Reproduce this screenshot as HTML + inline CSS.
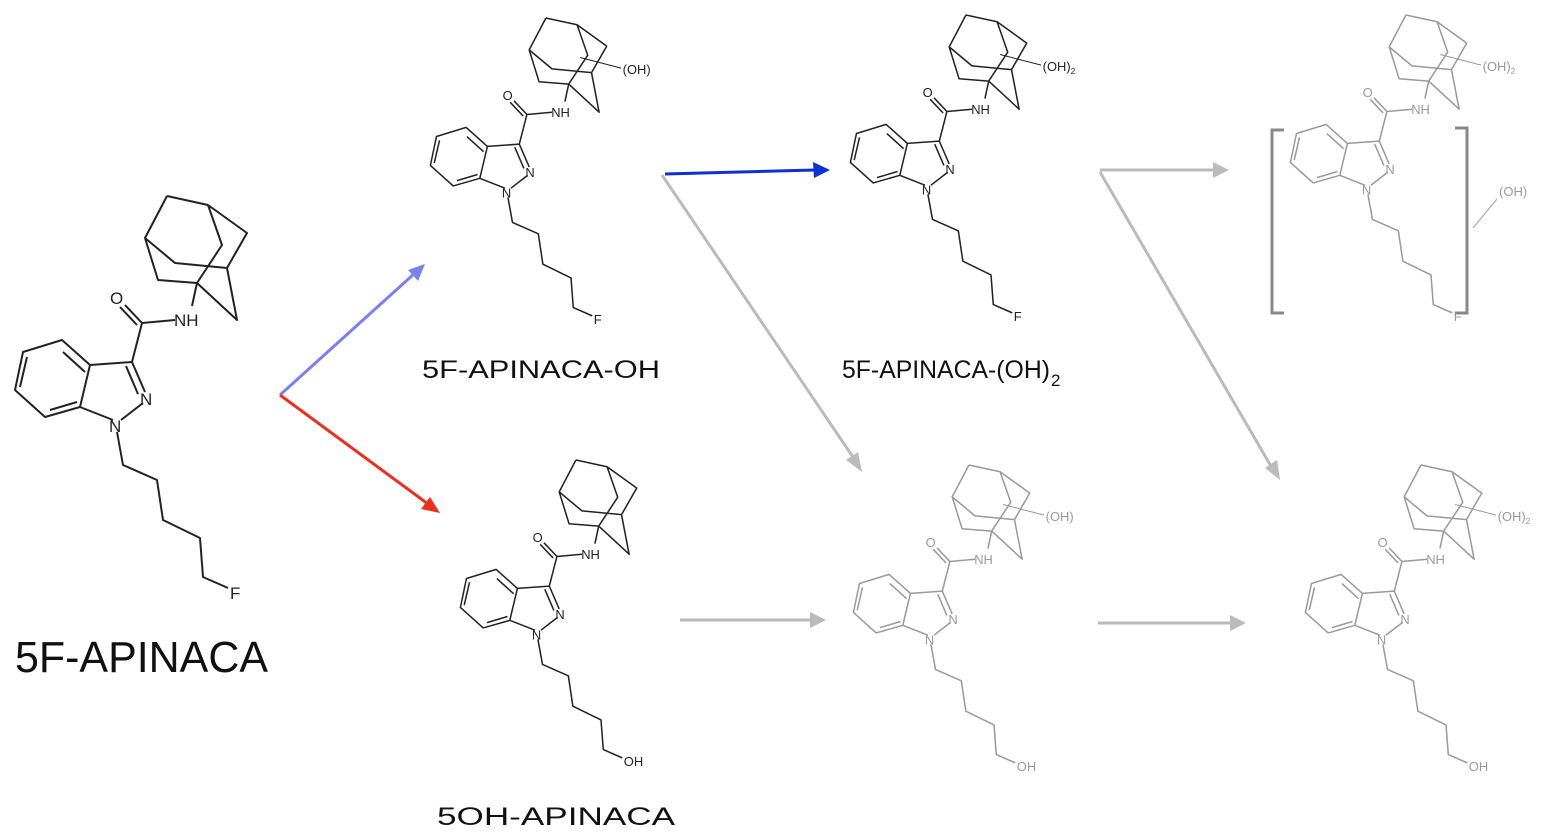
<!DOCTYPE html>
<html><head><meta charset="utf-8"><style>
html,body{margin:0;padding:0;background:#fff;}
svg{display:block;}
text{font-family:"Liberation Sans",sans-serif;}
</style></head><body>
<svg width="1542" height="837" viewBox="0 0 1542 837" xmlns="http://www.w3.org/2000/svg">
<defs>
<g id="m" fill="none" stroke-width="2" stroke-linejoin="round">
 <path d="M167,196 L208,205 L247,233 L227,268 M167,196 L145,238 L175,263 L227,268 M208,205 L222,245 L197,283 M145,238 L158,280 L197,283 L237,320 L227,268"/>
 <path d="M197,283 L192,306 M175,320 L142,323 L132,362 M142,323 L125,305 M137,325 L120,307"/>
 <path d="M132,362 L90,365 L80,407 L113,420 M121,420 L143,403 M132,362 L145,392 M126,366 L138,394"/>
 <path d="M90,365 L62,340 L23,352 L15,390 L45,417 L80,407 M85,372 L63,352 M27,357 L20,387 M50,410 L77,402"/>
 <path d="M117,432 L123,465 L157,480 L163,520 L200,538 L203,577 L228,588"/>
</g>
</defs>

<g stroke-width="3" fill="none">
 <line x1="280" y1="395" x2="415" y2="273" stroke="#7b80ee"/>
 <line x1="280" y1="395" x2="428" y2="504" stroke="#e8321e"/>
 <line x1="665" y1="174" x2="815" y2="170" stroke="#1030d0"/>
 <line x1="662" y1="175" x2="855" y2="460" stroke="#bbb"/>
 <line x1="680" y1="620" x2="812" y2="620" stroke="#bbb"/>
 <line x1="1100" y1="170" x2="1215" y2="170" stroke="#bbb"/>
 <line x1="1100" y1="172" x2="1272" y2="468" stroke="#bbb"/>
 <line x1="1098" y1="623" x2="1232" y2="623" stroke="#bbb"/>
</g>
<polygon points="425,264 408,270 418,281" fill="#7b80ee"/>
<polygon points="440,513 421,509 430,497" fill="#e8321e"/>
<polygon points="830,170 813,162 814,178" fill="#1030d0"/>
<polygon points="862,472 846,460 858,452" fill="#bbb"/>
<polygon points="826,620 810,612 810,628" fill="#bbb"/>
<polygon points="1229,170 1213,162 1213,178" fill="#bbb"/>
<polygon points="1280,480 1265,468 1277,460" fill="#bbb"/>
<polygon points="1246,623 1230,615 1230,631" fill="#bbb"/>

<g stroke="#222"><use href="#m"/></g>
<g font-size="17" fill="#222">
 <text x="110" y="304">O</text><text x="174" y="326">NH</text>
 <text x="140" y="405">N</text><text x="109" y="432">N</text><text x="230" y="599">F</text>
</g>
<text x="15" y="672" font-size="44" fill="#111" textLength="253" lengthAdjust="spacingAndGlyphs">5F-APINACA</text>

<g transform="translate(419,-131) scale(0.76)" stroke="#222">
 <use href="#m"/><line x1="212" y1="248" x2="266" y2="262" stroke-width="1.3"/>
 <g font-size="17" fill="#222" stroke="none">
 <text x="110" y="304">O</text><text x="174" y="326">NH</text>
 <text x="140" y="405">N</text><text x="109" y="432">N</text><text x="230" y="599">F</text>
 <text x="268" y="270">(OH)</text></g>
</g>
<text x="422" y="378" font-size="25" fill="#111" textLength="238" lengthAdjust="spacingAndGlyphs">5F-APINACA-OH</text>

<g transform="translate(839,-134) scale(0.76)" stroke="#222">
 <use href="#m"/><line x1="212" y1="248" x2="266" y2="262" stroke-width="1.3"/>
 <g font-size="17" fill="#222" stroke="none">
 <text x="110" y="304">O</text><text x="174" y="326">NH</text>
 <text x="140" y="405">N</text><text x="109" y="432">N</text><text x="230" y="599">F</text>
 <text x="268" y="270">(OH)<tspan font-size="11" dy="4">2</tspan></text></g>
</g>
<text x="842" y="378" font-size="25" fill="#111" textLength="208" lengthAdjust="spacingAndGlyphs">5F-APINACA-(OH)</text>
<text x="1051" y="386" font-size="17" fill="#111">2</text>

<g transform="translate(1279,-134) scale(0.76)" stroke="#9a9a9a">
 <use href="#m"/><line x1="212" y1="248" x2="266" y2="262" stroke-width="1.3"/>
 <g font-size="17" fill="#9a9a9a" stroke="none">
 <text x="110" y="304">O</text><text x="174" y="326">NH</text>
 <text x="140" y="405">N</text><text x="109" y="432">N</text><text x="230" y="599">F</text>
 <text x="268" y="270">(OH)<tspan font-size="11" dy="4">2</tspan></text></g>
</g>
<g stroke="#888" stroke-width="3" fill="none">
 <path d="M1284,130 L1272,130 L1272,313 L1284,313"/>
 <path d="M1455,128 L1467,128 L1467,313 L1455,313"/>
</g>
<line x1="1473" y1="228" x2="1497" y2="199" stroke="#aaa" stroke-width="1.2"/>
<text x="1499" y="196" font-size="13" fill="#9a9a9a">(OH)</text>

<g transform="translate(449,311) scale(0.76)" stroke="#222">
 <use href="#m"/>
 <g font-size="17" fill="#222" stroke="none">
 <text x="110" y="304">O</text><text x="174" y="326">NH</text>
 <text x="140" y="405">N</text><text x="109" y="432">N</text><text x="230" y="599">OH</text></g>
</g>
<text x="437" y="825" font-size="25" fill="#111" textLength="238" lengthAdjust="spacingAndGlyphs">5OH-APINACA</text>

<g transform="translate(842,316) scale(0.76)" stroke="#9a9a9a">
 <use href="#m"/><line x1="212" y1="248" x2="266" y2="262" stroke-width="1.3"/>
 <g font-size="17" fill="#9a9a9a" stroke="none">
 <text x="110" y="304">O</text><text x="174" y="326">NH</text>
 <text x="140" y="405">N</text><text x="109" y="432">N</text><text x="230" y="599">OH</text>
 <text x="268" y="270">(OH)</text></g>
</g>

<g transform="translate(1294,316) scale(0.76)" stroke="#9a9a9a">
 <use href="#m"/><line x1="212" y1="248" x2="266" y2="262" stroke-width="1.3"/>
 <g font-size="17" fill="#9a9a9a" stroke="none">
 <text x="110" y="304">O</text><text x="174" y="326">NH</text>
 <text x="140" y="405">N</text><text x="109" y="432">N</text><text x="230" y="599">OH</text>
 <text x="268" y="270">(OH)<tspan font-size="11" dy="4">2</tspan></text></g>
</g>
</svg>
</body></html>
